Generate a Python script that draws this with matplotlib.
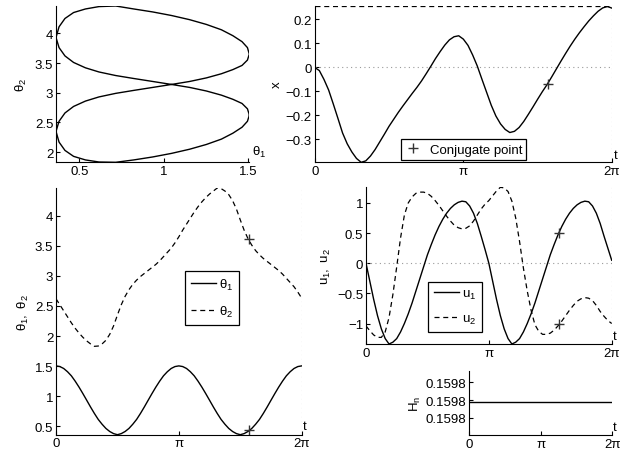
"""
Extremal trajectory plots: theta_1/theta_2 phase portrait, x(t),
theta(t), controls u(t) and the Hamiltonian H_n along the extremal.
"""
import numpy as np
import matplotlib
matplotlib.use("Agg")
import matplotlib.pyplot as plt


# ─── Data (grid step pi/32) ───────────────────────────────────────────────────

t = np.linspace(0, 2 * np.pi, 65)

theta1 = [1.505, 1.494, 1.462, 1.408, 1.340, 1.251, 1.152, 1.045, 0.934,
          0.822, 0.715, 0.616, 0.536, 0.466, 0.415, 0.380, 0.362,
          0.380, 0.415, 0.466, 0.536, 0.616, 0.715, 0.822, 0.934,
          1.045, 1.152, 1.251, 1.340, 1.408, 1.462, 1.494, 1.505,
          1.494, 1.462, 1.408, 1.340, 1.251, 1.152, 1.045, 0.934,
          0.822, 0.715, 0.616, 0.536, 0.466, 0.415, 0.380, 0.362,
          0.380, 0.415, 0.466, 0.536, 0.616, 0.715, 0.822, 0.934,
          1.045, 1.152, 1.251, 1.340, 1.408, 1.462, 1.494, 1.505]

theta2 = [2.62, 2.52, 2.42, 2.32, 2.22, 2.13, 2.05, 1.98, 1.92,
          1.87, 1.83, 1.835, 1.87, 1.93, 2.03, 2.17, 2.35,
          2.52, 2.66, 2.77, 2.86, 2.93, 2.99, 3.04, 3.09,
          3.14, 3.19, 3.25, 3.32, 3.39, 3.46, 3.55, 3.65,
          3.76, 3.86, 3.96, 4.06, 4.15, 4.23, 4.30, 4.36,
          4.41, 4.46, 4.45, 4.41, 4.35, 4.25, 4.11, 3.93,
          3.76, 3.62, 3.51, 3.42, 3.35, 3.29, 3.24, 3.19,
          3.14, 3.09, 3.03, 2.96, 2.89, 2.82, 2.73, 2.63]

x_pos = [0.000, -0.013, -0.050, -0.094, -0.152, -0.212, -0.273, -0.318, -0.352,
         -0.379, -0.395, -0.389, -0.369, -0.342, -0.310, -0.278, -0.245,
         -0.216, -0.187, -0.160, -0.134, -0.108, -0.083, -0.056, -0.026,
         0.005, 0.037, 0.066, 0.093, 0.115, 0.128, 0.132, 0.118,
         0.092, 0.052, 0.006, -0.049, -0.103, -0.157, -0.202, -0.235,
         -0.258, -0.271, -0.266, -0.250, -0.225, -0.195, -0.164, -0.132,
         -0.101, -0.072, -0.040, -0.007, 0.026, 0.058, 0.089, 0.118,
         0.145, 0.170, 0.194, 0.215, 0.234, 0.248, 0.254, 0.247]
x_top = 0.256

u1 = [0.00, -0.30, -0.60, -0.87, -1.09, -1.25, -1.34, -1.31, -1.25,
      -1.14, -1.00, -0.84, -0.66, -0.46, -0.26, -0.06, 0.14,
      0.31, 0.47, 0.61, 0.73, 0.83, 0.91, 0.97, 1.01,
      1.03, 1.02, 0.95, 0.83, 0.66, 0.45, 0.23, 0.00,
      -0.30, -0.60, -0.87, -1.09, -1.25, -1.34, -1.31, -1.25,
      -1.14, -1.00, -0.84, -0.66, -0.46, -0.26, -0.06, 0.14,
      0.31, 0.47, 0.61, 0.73, 0.83, 0.91, 0.97, 1.01,
      1.03, 1.02, 0.95, 0.83, 0.66, 0.45, 0.25, 0.05]

u2 = [-1.04, -1.12, -1.19, -1.23, -1.23, -1.14, -0.90, -0.52, -0.06,
      0.42, 0.80, 1.00, 1.10, 1.16, 1.18, 1.18, 1.16,
      1.11, 1.04, 0.96, 0.87, 0.78, 0.70, 0.63, 0.59,
      0.57, 0.58, 0.62, 0.70, 0.80, 0.90, 0.98, 1.04,
      1.12, 1.20, 1.26, 1.25, 1.19, 1.03, 0.75, 0.36,
      -0.08, -0.46, -0.78, -1.02, -1.13, -1.18, -1.18, -1.16,
      -1.11, -1.04, -0.96, -0.87, -0.78, -0.70, -0.63, -0.59,
      -0.57, -0.58, -0.62, -0.70, -0.80, -0.88, -0.95, -1.00]

h_value = 0.1597999
h_ticks = [0.159799, 0.159800, 0.159801]
h_lim = (0.15979802, 0.15980166)

# conjugate point
t_conj = 4.93
conj = {"x": -0.068, "theta1": 0.44, "theta2": 3.62, "u1": 0.50, "u2": -1.00}

t_ticks = [0, np.pi, 2 * np.pi]
t_labels = ["0", "π", "2π"]


# ─── Style ───────────────────────────────────────────────────────────────────

plt.rcParams["font.family"] = ["Liberation Sans", "DejaVu Sans"]
plt.rcParams["mathtext.fontset"] = "custom"
plt.rcParams["mathtext.rm"] = "Liberation Sans"
plt.rcParams["mathtext.it"] = "Liberation Sans"
plt.rcParams["mathtext.default"] = "regular"
plt.rcParams["font.size"] = 9.5

FS = 9.5
DOT = dict(color="#9a9a9a", lw=0.8, ls=(0, (1, 3)))
DASH = (0, (4, 3))
CONJ = dict(marker="+", color="#333333", ms=7, mew=1.0, ls="none")


def matlab_axes(ax):
    for side in ("top", "right"):
        ax.spines[side].set_visible(False)
    for side in ("left", "bottom"):
        ax.spines[side].set_linewidth(0.8)
    ax.tick_params(direction="in", length=3, width=0.8, labelsize=FS, pad=2)


def time_axes(ax):
    matlab_axes(ax)
    ax.set_xlim(0, 2 * np.pi)
    ax.set_xticks(t_ticks)
    ax.set_xticklabels(t_labels)
    ax.axvline(2 * np.pi, **DOT)
    ax.text(1.006, 0.01, "t", transform=ax.transAxes, ha="left",
            va="bottom", fontsize=FS)


def box_legend(ax, **kw):
    opts = dict(fancybox=False, edgecolor="black", framealpha=1,
                fontsize=FS, borderaxespad=0, borderpad=0.35,
                labelspacing=0.35, handletextpad=0.4)
    opts.update(kw)
    leg = ax.legend(**opts)
    leg.get_frame().set_linewidth(0.9)
    return leg


W, H = 631, 456
fig = plt.figure(figsize=(W / 100, H / 100), dpi=100)


def axes_px(left, top, right, bottom):
    return fig.add_axes([left / W, 1 - bottom / H,
                         (right - left) / W, (bottom - top) / H])


# ─── Phase portrait theta_2 vs theta_1 ─────────────────────────────────────────

ax1 = axes_px(56, 7, 249.3, 163.3)
matlab_axes(ax1)
ax1.plot(theta1, theta2, color="black", lw=1.0)
ax1.set_xlim(min(theta1), max(theta1))
ax1.set_ylim(min(theta2), max(theta2))
ax1.set_xticks([0.5, 1, 1.5])
ax1.set_xticklabels(["0.5", "1", "1.5"])
ax1.set_yticks([2, 2.5, 3, 3.5, 4])
ax1.set_yticklabels(["2", "2.5", "3", "3.5", "4"])
ax1.set_ylabel(r"$\theta_2$", fontsize=FS, labelpad=4)
ax1.text(1.015, 0.02, r"$\theta_1$", transform=ax1.transAxes,
         ha="left", va="bottom", fontsize=FS)

# ─── x(t) ──────────────────────────────────────────────────────────────────────

ax2 = axes_px(314.7, 7, 612, 163.3)
time_axes(ax2)
ax2.axhline(0, **DOT)
ax2.plot(t, x_pos, color="black", lw=1.0)
ax2.plot([0, 2 * np.pi], [x_top, x_top], color="black", lw=0.9, ls=DASH)
ax2.plot([t_conj], [conj["x"]], label="Conjugate point", **CONJ)
ax2.set_ylim(min(x_pos), x_top)
ax2.set_yticks([-0.3, -0.2, -0.1, 0, 0.1, 0.2])
ax2.set_yticklabels(["\u22120.3", "\u22120.2", "\u22120.1", "0", "0.1", "0.2"])
ax2.set_ylabel("x", fontsize=FS, labelpad=2)
box_legend(ax2, loc="lower left", bbox_to_anchor=(0.289, 0.017),
           handlelength=1.3, borderpad=0.3, handletextpad=0.6)

# ─── theta_1(t), theta_2(t) ────────────────────────────────────────────────────

ax3 = axes_px(56, 189, 301.7, 435.7)
time_axes(ax3)
ax3.plot(t, theta1, color="black", lw=1.0, label=r"$\theta_1$")
ax3.plot(t, theta2, color="black", lw=0.9, ls=DASH, label=r"$\theta_2$")
ax3.plot([t_conj, t_conj], [conj["theta1"], conj["theta2"]], **CONJ)
ax3.set_ylim(min(theta1), max(theta2))
ax3.set_yticks([0.5, 1, 1.5, 2, 2.5, 3, 3.5, 4])
ax3.set_yticklabels(["0.5", "1", "1.5", "2", "2.5", "3", "3.5", "4"])
ax3.set_ylabel(r"$\theta_1,\ \theta_2$", fontsize=FS, labelpad=3)
box_legend(ax3, loc="upper left", bbox_to_anchor=(0.525, 0.665),
           handlelength=1.9, handletextpad=0.2, labelspacing=0.9,
           borderpad=0.45)

# ─── u_1(t), u_2(t) ────────────────────────────────────────────────────────────

ax4 = axes_px(366, 188.3, 611.7, 345)
time_axes(ax4)
ax4.axhline(0, **DOT)
ax4.plot(t, u1, color="black", lw=1.0, label=r"$u_1$")
ax4.plot(t, u2, color="black", lw=0.9, ls=DASH, label=r"$u_2$")
ax4.plot([t_conj, t_conj], [conj["u1"], conj["u2"]], **CONJ)
ax4.set_ylim(min(u1), max(u2))
ax4.set_yticks([-1, -0.5, 0, 0.5, 1])
ax4.set_yticklabels(["\u22121", "\u22120.5", "0", "0.5", "1"])
ax4.set_ylabel(r"$u_1,\ u_2$", fontsize=FS, labelpad=3)
box_legend(ax4, loc="upper left", bbox_to_anchor=(0.254, 0.398),
           handlelength=1.9, handletextpad=0.2, labelspacing=0.9,
           borderpad=0.45)

# ─── H_n(t) ────────────────────────────────────────────────────────────────────

ax5 = axes_px(469.3, 371.7, 612.3, 436)
matlab_axes(ax5)
ax5.set_xlim(0, 2 * np.pi)
ax5.set_xticks(t_ticks)
ax5.set_xticklabels(t_labels)
ax5.text(1.006, 0.03, "t", transform=ax5.transAxes, ha="left",
         va="bottom", fontsize=FS)
ax5.plot(t, [h_value] * len(t), color="black", lw=1.0)
ax5.set_ylim(*h_lim)
ax5.set_yticks(h_ticks)
ax5.set_yticklabels(["%.4f" % v for v in h_ticks])
ax5.set_ylabel(r"$H_n$", fontsize=FS, labelpad=2)

fig.savefig("out.png", dpi=100)
